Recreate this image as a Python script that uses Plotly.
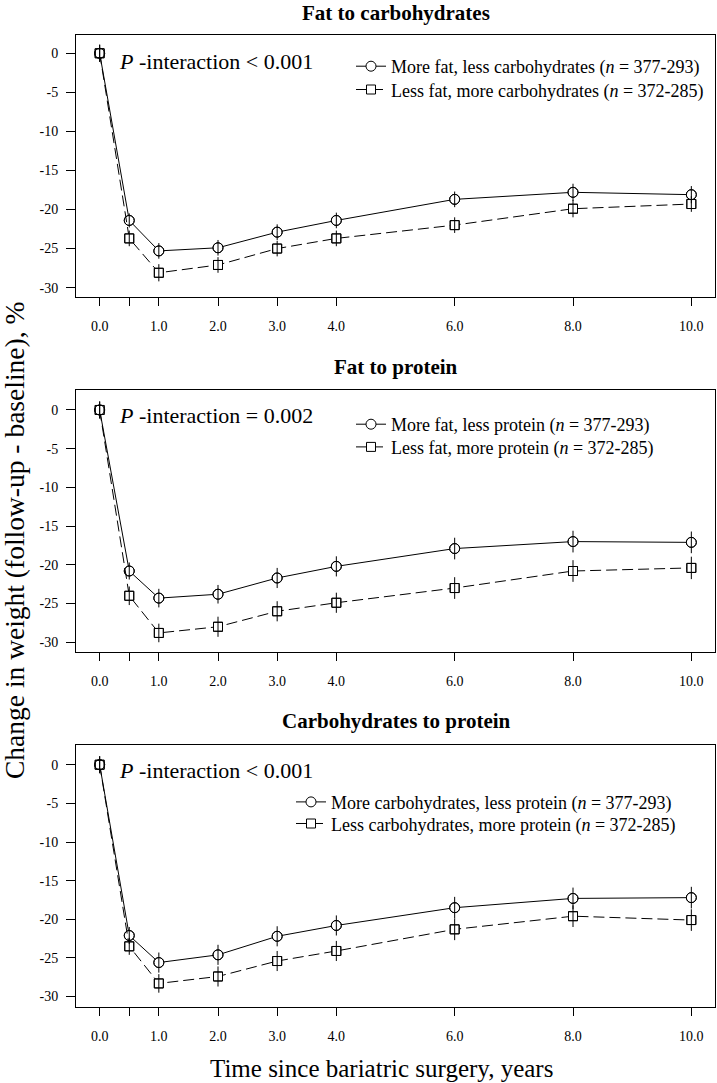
import plotly.graph_objects as go

# ---------------- data ----------------
times = [0, 0.5, 1, 2, 3, 4, 6, 8, 10]
x_tick_vals = [0, 0.5, 1, 2, 3, 4, 6, 8, 10]
x_tick_text = ["0.0", "", "1.0", "2.0", "3.0", "4.0", "6.0", "8.0", "10.0"]
y_tick_vals = [0, -5, -10, -15, -20, -25, -30]
y_tick_text = ["0", "-5", "-10", "-15", "-20", "-25", "-30"]

panel_titles = ["Fat to carbohydrates", "Fat to protein", "Carbohydrates to protein"]
p_texts = ["<i>P</i> -interaction &lt; 0.001",
           "<i>P</i> -interaction = 0.002",
           "<i>P</i> -interaction &lt; 0.001"]
more_labels = ["More fat, less carbohydrates (<i>n</i> = 377-293)",
               "More fat, less protein (<i>n</i> = 377-293)",
               "More carbohydrates, less protein (<i>n</i> = 377-293)"]
less_labels = ["Less fat, more carbohydrates (<i>n</i> = 372-285)",
               "Less fat, more protein (<i>n</i> = 372-285)",
               "Less carbohydrates, more protein (<i>n</i> = 372-285)"]

# Panel 1: fat to carbohydrates
fat_carb_more = [0, -21.4, -25.3, -24.9, -22.9, -21.4, -18.7, -17.8, -18.1]
fat_carb_more_err = [1.1, 0.9, 1.0, 1.0, 1.0, 1.0, 1.0, 1.1, 1.1]
fat_carb_less = [0, -23.7, -28.1, -27.1, -25.0, -23.7, -22.0, -19.9, -19.3]
fat_carb_less_err = [1.1, 1.0, 1.1, 1.0, 1.0, 1.0, 1.0, 1.1, 1.0]

# Panel 2: fat to protein
fat_prot_more = [0, -20.8, -24.3, -23.8, -21.7, -20.2, -17.9, -17.0, -17.1]
fat_prot_more_err = [1.1, 1.1, 1.2, 1.2, 1.3, 1.3, 1.4, 1.4, 1.4]
fat_prot_less = [0, -24.0, -28.8, -28.0, -26.0, -24.9, -23.0, -20.8, -20.4]
fat_prot_less_err = [1.1, 1.2, 1.2, 1.3, 1.3, 1.3, 1.4, 1.4, 1.45]

# Panel 3: carbohydrates to protein
carb_prot_more = [0, -22.1, -25.6, -24.6, -22.2, -20.8, -18.5, -17.3, -17.2]
carb_prot_more_err = [1.1, 1.1, 1.3, 1.3, 1.3, 1.3, 1.4, 1.4, 1.4]
carb_prot_less = [0, -23.5, -28.3, -27.4, -25.4, -24.1, -21.3, -19.6, -20.1]
carb_prot_less_err = [1.1, 1.1, 1.2, 1.3, 1.3, 1.3, 1.4, 1.4, 1.4]

panels = [
    (fat_carb_more, fat_carb_more_err, fat_carb_less, fat_carb_less_err),
    (fat_prot_more, fat_prot_more_err, fat_prot_less, fat_prot_less_err),
    (carb_prot_more, carb_prot_more_err, carb_prot_less, carb_prot_less_err),
]

# ---------------- layout geometry (pixels) ----------------
W, H = 717, 1083
ML, MR = 76, 2
PW = W - ML - MR
box_top = [35, 390, 744.7]
box_bot = [297.3, 652.3, 1007]
y_ranges = [[-31.24, 2.34], [-31.30, 2.58], [-31.35, 2.59]]
title_y = [12.5, 366.5, 721]
ptext_y = [61, 415, 770]
legend_text_x = [391, 391, 331]
legend_rows_y = [(66, 89.3), (424, 446.7), (801.7, 823.3)]

FONT = "Liberation Serif"


def px_x(px):
    return (px - ML) / PW


def px_y(py):
    return 1 - py / H


fig = go.Figure()

for i, (more, more_err, less, less_err) in enumerate(panels):
    n = "" if i == 0 else str(i + 1)
    xa, ya = "x" + n, "y" + n
    leg_more = "legend" if i == 0 else "legend" + str(2 * i + 1)
    leg_less = "legend" + str(2 * i + 2)
    # lines with white-filled markers (gaps like R type="b")
    fig.add_trace(go.Scatter(
        x=times, y=more, xaxis=xa, yaxis=ya, mode="lines+markers",
        name=more_labels[i], legend=leg_more,
        line=dict(color="black", width=1),
        marker=dict(symbol="circle", size=10, color="white",
                    line=dict(color="black", width=1)),
    ))
    fig.add_trace(go.Scatter(
        x=times, y=less, xaxis=xa, yaxis=ya, mode="lines+markers",
        name=less_labels[i], legend=leg_less,
        line=dict(color="black", width=1, dash="11px,5px"),
        marker=dict(symbol="square", size=9, color="white",
                    line=dict(color="black", width=1)),
    ))
    # error bars drawn on top, passing through the open symbols
    fig.add_trace(go.Scatter(
        x=times, y=more, xaxis=xa, yaxis=ya, mode="markers", showlegend=False,
        marker=dict(symbol="circle-open", size=10, color="black",
                    line=dict(color="black", width=1)),
        error_y=dict(type="data", array=more_err, color="black",
                     thickness=1, width=0),
    ))
    fig.add_trace(go.Scatter(
        x=times, y=less, xaxis=xa, yaxis=ya, mode="markers", showlegend=False,
        marker=dict(symbol="square-open", size=9, color="black",
                    line=dict(color="black", width=1)),
        error_y=dict(type="data", array=less_err, color="black",
                     thickness=1, width=0),
    ))

layout = dict(
    width=W, height=H,
    margin=dict(l=ML, r=MR, t=0, b=0, pad=0),
    paper_bgcolor="white", plot_bgcolor="white",
    font=dict(family=FONT, color="black", size=14),
    annotations=[],
)

for i in range(3):
    n = "" if i == 0 else str(i + 1)
    layout["xaxis" + n] = dict(
        domain=[0, 1], range=[-0.4, 10.4], anchor="y" + n,
        tickmode="array", tickvals=x_tick_vals, ticktext=x_tick_text,
        ticks="outside", ticklen=8, tickwidth=1, tickcolor="black",
        ticklabelstandoff=8,
        showline=True, mirror=True, linecolor="black", linewidth=1,
        showgrid=False, zeroline=False,
        tickfont=dict(family=FONT, size=14, color="black"),
    )
    layout["yaxis" + n] = dict(
        domain=[px_y(box_bot[i]), px_y(box_top[i])], range=y_ranges[i],
        anchor="x" + n,
        tickmode="array", tickvals=y_tick_vals, ticktext=y_tick_text,
        ticks="outside", ticklen=9, tickwidth=1, tickcolor="black",
        ticklabelstandoff=5,
        showline=True, mirror=True, linecolor="black", linewidth=1,
        showgrid=False, zeroline=False,
        tickfont=dict(family=FONT, size=14, color="black"),
    )
    for j in range(2):
        k = 2 * i + j + 1
        name = "legend" if k == 1 else "legend" + str(k)
        layout[name] = dict(
            x=px_x(legend_text_x[i] - 40), xanchor="left", xref="paper",
            y=px_y(legend_rows_y[i][j] - 18), yanchor="top", yref="paper",
            bgcolor="rgba(0,0,0,0)", borderwidth=0,
            font=dict(family=FONT, size=18, color="black"),
            itemwidth=30,
        )
    layout["annotations"].append(dict(
        text="<b>" + panel_titles[i] + "</b>", xref="paper", yref="paper",
        x=px_x(396), y=px_y(title_y[i]), xanchor="center", yanchor="middle",
        showarrow=False, font=dict(family=FONT, size=21, color="black"),
    ))
    layout["annotations"].append(dict(
        text=p_texts[i], xref="paper", yref="paper",
        x=px_x(117), y=px_y(ptext_y[i]), xanchor="left", yanchor="middle",
        showarrow=False, font=dict(family=FONT, size=22, color="black"),
    ))

layout["annotations"].append(dict(
    text="Time since bariatric surgery, years", xref="paper", yref="paper",
    x=px_x(381), y=px_y(1068), xanchor="center", yanchor="middle",
    showarrow=False, font=dict(family=FONT, size=25, color="black"),
))
layout["annotations"].append(dict(
    text="Change in weight (follow-up - baseline), %", xref="paper", yref="paper",
    x=px_x(14), y=px_y(541), xanchor="center", yanchor="middle", textangle=-90,
    showarrow=False, font=dict(family=FONT, size=27.5, color="black"),
))

fig.update_layout(**layout)
fig.write_html("out.html", config={"displayModeBar": False},
               post_script="document.body.style.margin='0px';")
